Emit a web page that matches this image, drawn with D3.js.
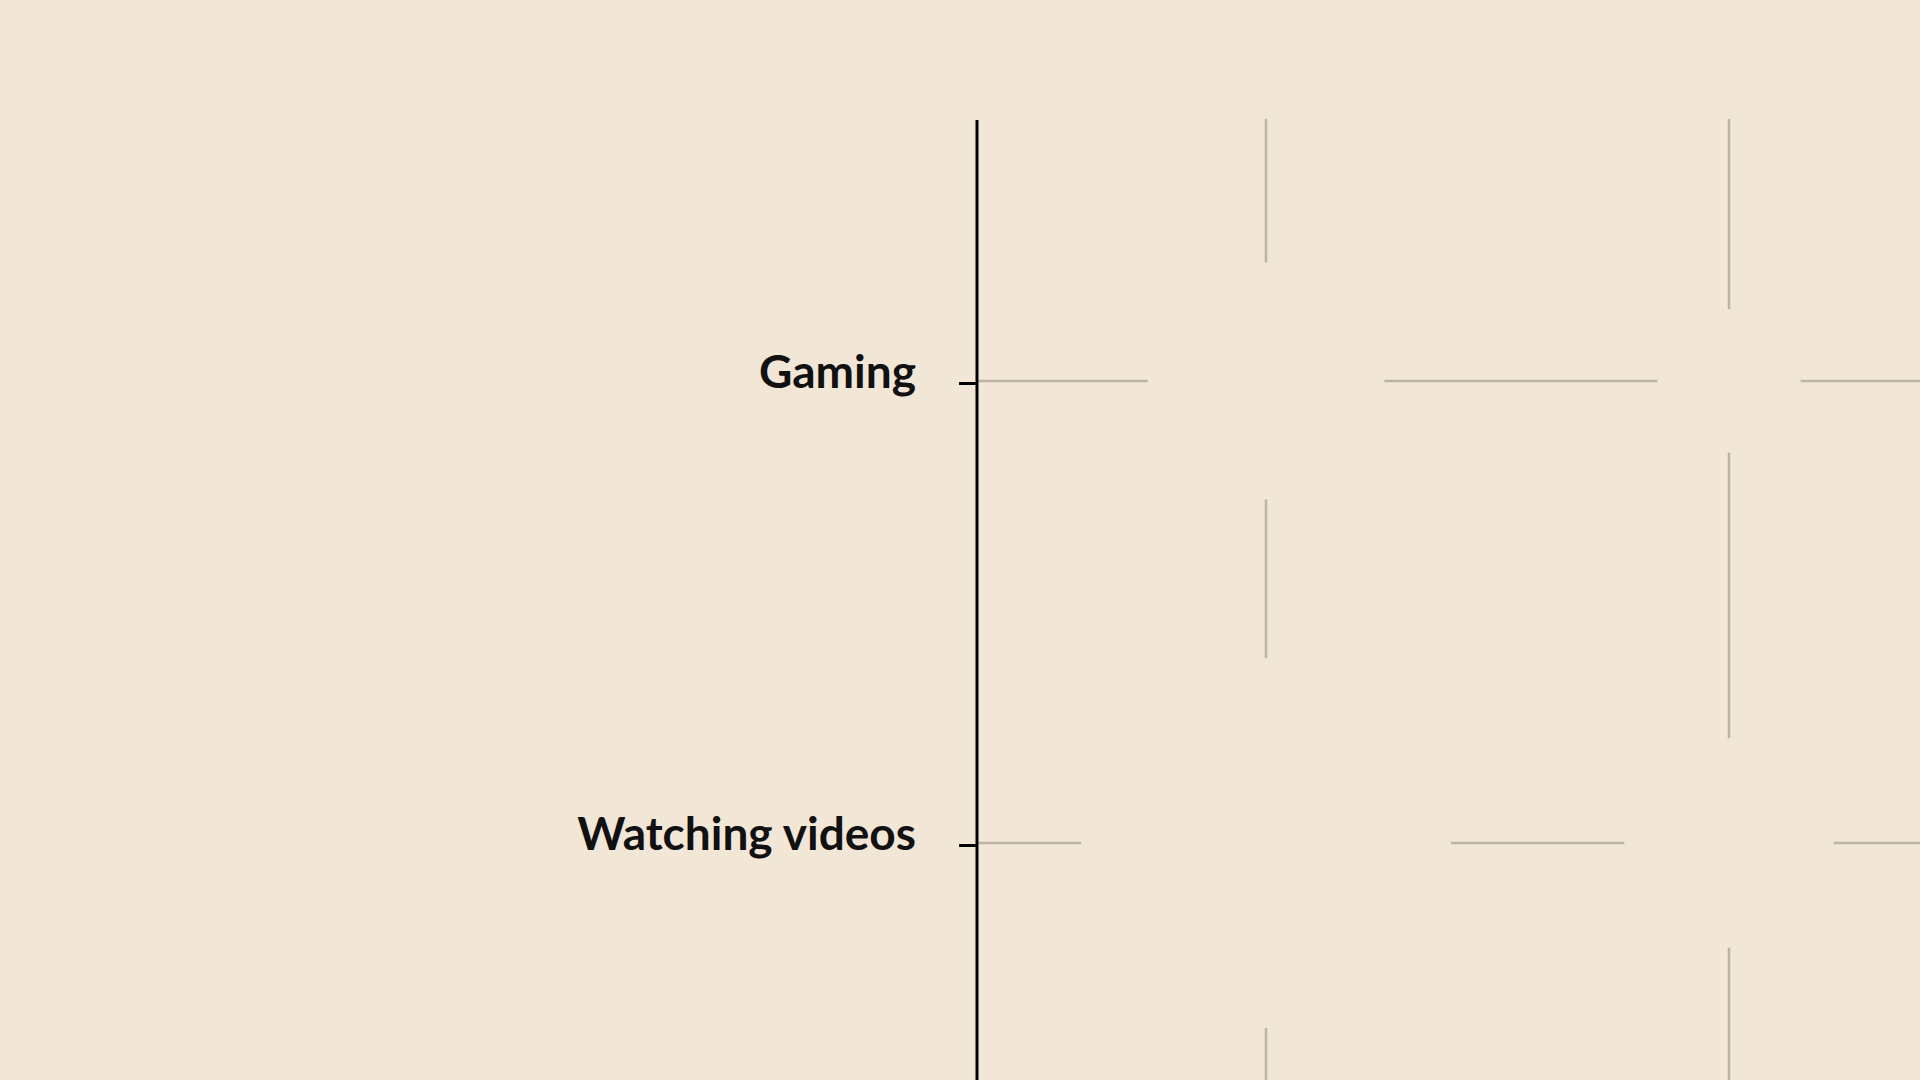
<!DOCTYPE html>
<html>
<head>
<meta charset="utf-8">
<script src="https://cdn.jsdelivr.net/npm/d3@7"></script>
<style>
  html, body { margin: 0; padding: 0; background: #f2e6d7; }
  svg { display: block; }
</style>
</head>
<body>
<svg id="chart" width="1920" height="1080"></svg>
<script>
// ---- data ----
const categories = ["Gaming", "Watching videos"];
const columns = ["Col 1", "Col 2"];
const gamingValues = [41, 15];
const watchingValues = [100, 32];

const seriesByCategory = [gamingValues, watchingValues];

// ---- layout ----
const W = 1920, H = 1080;
const axisX = 977, plotTop = 120;
const bg = "#f2e6d7";

const svg = d3.select("#chart");
svg.append("rect").attr("width", W).attr("height", H).attr("fill", bg);

const y = d3.scalePoint().domain(categories).range([381, 843]);
const x = d3.scalePoint().domain(columns).range([1266, 1729]);
const r = d3.scaleSqrt().domain([0, 100]).range([0, 185]);

// gridlines
const grid = svg.append("g").attr("stroke", "#bdb3a7").attr("stroke-width", 2.5).attr("stroke-linecap", "round");
grid.selectAll("line.h").data(categories).join("line")
  .attr("class", "h")
  .attr("x1", axisX).attr("x2", W)
  .attr("y1", d => y(d)).attr("y2", d => y(d));
grid.selectAll("line.v").data(columns).join("line")
  .attr("class", "v")
  .attr("x1", d => x(d)).attr("x2", d => x(d))
  .attr("y1", plotTop).attr("y2", H);

// bubbles (drawn in background colour, masking the grid)
const cells = [];
categories.forEach((c, i) => columns.forEach((col, j) => cells.push({ c, col, v: seriesByCategory[i][j] })));
svg.append("g").selectAll("circle").data(cells).join("circle")
  .attr("cx", d => x(d.col))
  .attr("cy", d => y(d.c))
  .attr("r", d => r(d.v))
  .attr("fill", bg);

// y axis
const axis = d3.axisLeft(y).tickSize(18).tickPadding(43);
const ag = svg.append("g").attr("transform", `translate(${axisX},0)`).call(axis);
ag.select(".domain").remove();
ag.append("line").attr("x1", 0).attr("x2", 0).attr("y1", plotTop).attr("y2", H)
  .attr("stroke", "#000").attr("stroke-width", 3);
ag.selectAll(".tick line").attr("stroke", "#000").attr("stroke-width", 3).attr("transform", "translate(0,2)");
ag.selectAll(".tick text")
  .attr("fill", "#111")
  .attr("font-family", "Lato, 'Noto Sans', sans-serif")
  .attr("font-weight", 700)
  .attr("font-size", 46)
  .attr("dy", "0.15em");
</script>
</body>
</html>
